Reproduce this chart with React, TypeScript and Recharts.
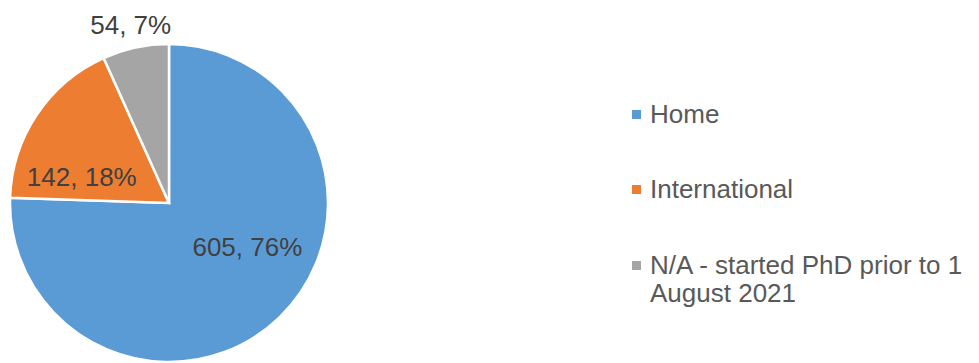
import React from "react";
import { Cell, Legend, Pie, PieChart } from "recharts";

const categories = ["Home", "International", "N/A - started PhD prior to 1 August 2021"];
const counts = [605, 142, 54];
const colors = ["#5B9BD5", "#ED7D31", "#A5A5A5"];

const FONT = '"Liberation Sans", Arial, sans-serif';
const RAD = Math.PI / 180;

if (typeof document !== "undefined") document.body.style.margin = "0";

const total = counts.reduce((a, b) => a + b, 0);
const data = categories.map((name, i) => ({ name, value: counts[i] }));

// Excel's "best fit" placement, expressed as radius + angle nudge from the slice middle
const labelPlacement = [
  { r: 90, nudge: 16.5 },
  { r: 91, nudge: 17.2 },
  { r: 182, nudge: 0 },
];

function renderLabel(props: any) {
  const { cx, cy, midAngle, index, value } = props;
  const p = labelPlacement[index];
  const a = (midAngle + p.nudge) * RAD;
  const x = cx + p.r * Math.cos(-a);
  const y = cy + p.r * Math.sin(-a);
  return (
    <text
      x={x}
      y={y}
      textAnchor="middle"
      dominantBaseline="central"
      fill="#404040"
      fontSize={26}
      fontFamily={FONT}
    >
      {`${value}, ${Math.round((value / total) * 100)}%`}
    </text>
  );
}

function LegendContent() {
  return (
    <div style={{ fontFamily: FONT, fontSize: 26, color: "#595959" }}>
      {categories.map((c, i) => (
        <div
          key={c}
          style={{ display: "flex", alignItems: "flex-start", marginBottom: i === 0 ? 47 : 48 }}
        >
          <span
            style={{
              width: 9,
              height: 9,
              marginTop: 9.5,
              marginRight: 9,
              background: colors[i],
              flex: "none",
            }}
          />
          <span style={{ lineHeight: "28px", width: 325 }}>{c}</span>
        </div>
      ))}
    </div>
  );
}

export default function App() {
  return (
    <PieChart width={979} height={363} margin={{ top: 0, right: 0, bottom: 0, left: 0 }}>
      <Pie
        data={data}
        dataKey="value"
        nameKey="name"
        cx={169}
        cy={203}
        outerRadius={159}
        startAngle={90}
        endAngle={-270}
        stroke="#FFFFFF"
        strokeWidth={2.5}
        label={renderLabel}
        labelLine={false}
        isAnimationActive={false}
      >
        {data.map((d, i) => (
          <Cell key={d.name} fill={colors[i]} />
        ))}
      </Pie>
      <Legend
        content={<LegendContent />}
        wrapperStyle={{ position: "absolute", left: 632, top: 100, width: 347 }}
      />
    </PieChart>
  );
}
